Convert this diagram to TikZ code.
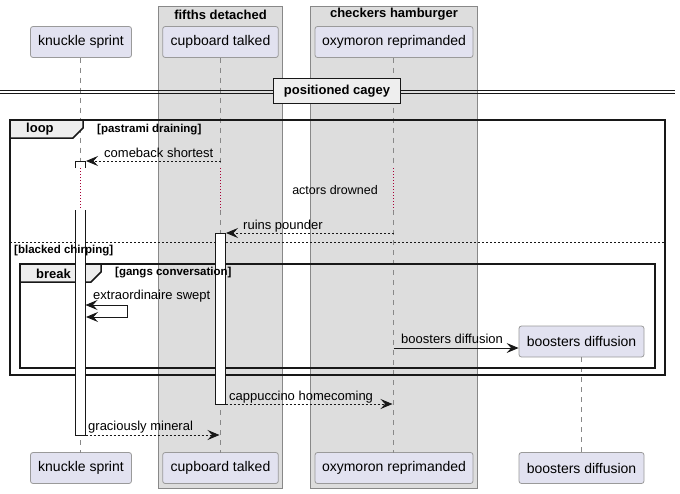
\documentclass[tikz,border=0pt]{standalone}
\usepackage{fontspec}
\setmainfont{Liberation Sans}
\usetikzlibrary{arrows.meta}
\definecolor{partfill}{HTML}{E2E2F0}
\definecolor{partdraw}{HTML}{9A9A9A}
\definecolor{grpfill}{HTML}{DDDDDD}
\definecolor{grpdraw}{HTML}{888888}
\definecolor{tabfill}{HTML}{EEEEEE}
\definecolor{delayred}{HTML}{A80036}
\definecolor{lifegray}{HTML}{888888}
\definecolor{inkdark}{HTML}{181818}
\tikzset{
  part/.style={draw=partdraw, fill=partfill, rounded corners=2.5pt, inner sep=0pt,
    minimum height=31pt, font=\fontsize{14}{16}\selectfont, line width=0.8pt},
  grp/.style={draw=grpdraw, fill=grpfill, line width=0.8pt},
  grptitle/.style={font=\fontsize{13}{15}\selectfont\bfseries, inner sep=0pt},
  life/.style={draw=lifegray, dash pattern=on 5pt off 5pt, line width=0.8pt},
  delayline/.style={draw=delayred, dash pattern=on 1pt off 2pt, line width=0.8pt},
  actbox/.style={draw=inkdark, fill=white, line width=0.9pt},
  frm/.style={draw=inkdark, line width=1.5pt},
  tabshape/.style={draw=inkdark, fill=tabfill, line width=1.5pt},
  tabtitle/.style={font=\fontsize{13}{15}\selectfont\bfseries, inner sep=0pt, anchor=west},
  guard/.style={font=\fontsize{11.5}{13}\selectfont\bfseries, inner sep=0pt, anchor=west},
  msgtext/.style={font=\fontsize{13}{15}\selectfont, inner sep=0pt, anchor=base west},
  arr/.style={-{Stealth[length=12pt,width=10pt,inset=4.5pt]}, draw=inkdark, line width=0.9pt},
  darr/.style={arr, dash pattern=on 2pt off 2pt},
}
\begin{document}
\begin{tikzpicture}[x=1pt,y=-1pt]
\useasboundingbox (0,0) rectangle (680,493);
% groups
\draw[grp] (158.5,6.5) rectangle (282.5,488.5);
\node[grptitle] (g1) at (220.5,14.5) {fifths detached};
\draw[grp] (310.5,6.5) rectangle (477.5,488.5);
\node[grptitle] (g2) at (394,14.5) {checkers hamburger};
% participants top
\node[part, minimum width=101pt] (ks) at (81,42) {knuckle sprint};
\node[part, minimum width=115.6pt] (ct) at (220.5,42) {cupboard talked};
\node[part, minimum width=158pt] (orp) at (394,42) {oxymoron reprimanded};
% participants bottom
\node[part, minimum width=101pt] (ksb) at (81,468) {knuckle sprint};
\node[part, minimum width=115.6pt] (ctb) at (220.5,468) {cupboard talked};
\node[part, minimum width=158pt] (orpb) at (394,468) {oxymoron reprimanded};
\node[part, minimum width=125pt] (bdb) at (581.5,468) {boosters diffusion};
\node[part, minimum width=125pt] (bd) at (581.5,341.5) {boosters diffusion};
% lifelines
\draw[life] (80.5,57.5) -- (80.5,168);
\draw[life] (80.5,210) -- (80.5,452.5);
\draw[life] (220.5,57.5) -- (220.5,168);
\draw[life] (220.5,210) -- (220.5,452.5);
\draw[life] (393.5,57.5) -- (393.5,168);
\draw[life] (393.5,210) -- (393.5,452.5);
\draw[life] (bd.south) -- (bdb.north);
\draw[delayline] (80.5,168) -- (80.5,210);
\draw[delayline] (220.5,168) -- (220.5,210);
\draw[delayline] (393.5,168) -- (393.5,210);
\node[font=\fontsize{12.5}{14}\selectfont, inner sep=0pt] (dl) at (335,190) {actors drowned};
% divider
\draw[draw=inkdark, line width=0.9pt] (0,90) -- (675,90);
\draw[draw=inkdark, line width=0.9pt] (0,93.5) -- (675,93.5);
\node[draw=inkdark, fill=tabfill, line width=1.6pt, minimum width=127pt, minimum height=25pt,
  inner sep=0pt, font=\fontsize{13}{15}\selectfont\bfseries] (dv) at (337,91) {positioned cagey};
% loop frame
\draw[frm] (10,120) rectangle (665,375);
\filldraw[tabshape] (10,120) -- (83,120) -- (83,128) -- (73,138) -- (10,138) -- cycle;
\draw[draw=inkdark, dash pattern=on 2pt off 2pt, line width=0.8pt] (10,242) -- (665,242);
% break frame
\draw[frm] (20,264) rectangle (655,368);
\filldraw[tabshape] (20,264) -- (101,264) -- (101,272) -- (91,282) -- (20,282) -- cycle;
% activations
\fill[white] (75.5,161) rectangle (85.5,168);
\draw[actbox] (75.5,168) -- (75.5,161) -- (85.5,161) -- (85.5,168);
\fill[white] (75.5,210) rectangle (85.5,435);
\draw[actbox] (75.5,210) -- (75.5,435) -- (85.5,435) -- (85.5,210);
\draw[actbox] (215.5,233) rectangle (225.5,404);
% frame labels (on top)
\node[tabtitle] (lt) at (26,129.5) {loop};
\node[guard] (lg) at (97,130) {[pastrami draining]};
\node[guard] (eg) at (14,250.5) {[blacked chirping]};
\node[tabtitle] (bt) at (36,274) {break};
\node[guard] (bg) at (115,272.5) {[gangs conversation]};
% coordinates
\coordinate (m1s) at (220.5,161); \coordinate (m1e) at (86,161);
\coordinate (m2s) at (393.5,233); \coordinate (m2e) at (226,233);
\coordinate (m3a) at (85.5,305); \coordinate (m3b) at (127,305);
\coordinate (m3c) at (127,317); \coordinate (m3d) at (86,317);
\coordinate (m4s) at (393.5,348);
\coordinate (m5s) at (225.5,404); \coordinate (m5e) at (392.5,404);
\coordinate (m6s) at (85.5,435); \coordinate (m6e) at (219.5,435);
% messages
\draw[darr] (m1s) -- (m1e);
\node[msgtext] at (104,157) {comeback shortest};
\draw[darr] (m2s) -- (m2e);
\node[msgtext] at (243,229) {ruins pounder};
\draw[arr] (m3b) -- (m3a);
\draw[arr] (m3b) -- (m3c) -- (m3d);
\node[msgtext] at (93,299) {extraordinaire swept};
\draw[arr] (m4s) -- (bd.west |- m4s);
\node[msgtext] at (401,343) {boosters diffusion};
\draw[darr] (m5s) -- (m5e);
\node[msgtext] at (229,400) {cappuccino homecoming};
\draw[darr] (m6s) -- (m6e);
\node[msgtext] at (88,430) {graciously mineral};
\end{tikzpicture}
\end{document}
